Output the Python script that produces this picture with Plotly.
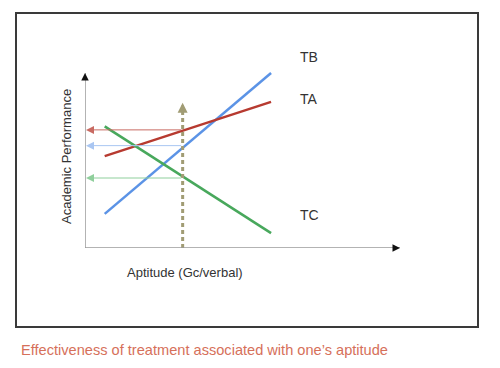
import plotly.graph_objects as go

# ---- data (abstract units: aptitude 0..16, performance 0..10) ----
treatments = ["TB", "TA", "TC"]
x_start = [1.0, 1.0, 1.0]
x_end = [9.45, 9.45, 9.45]
y_start = [1.95, 5.25, 6.95]
y_end = [10.0, 8.35, 0.85]
line_colors = ["#5b93e6", "#b73a30", "#48a85c"]
arrow_colors = ["#a9c6f2", "#c86a62", "#8fcf9c"]

aptitude_point = 4.96
aptitude_top = 8.3
performance_levels = [5.85, 6.75, 4.0]   # TB, TA, TC read at aptitude_point

label_x = [11.4, 11.4, 11.4]
label_y = [10.9, 8.5, 1.9]

x_max = 16
y_max = 10
y_view_max = 11.886

x_title = "Aptitude (Gc/verbal)"
y_title = "Academic Performance"
caption = "Effectiveness of treatment associated with one’s aptitude"

W, H = 500, 368
FONT = "Liberation Sans, Arial, sans-serif"

fig = go.Figure()

for name, xs, xe, ys, ye, c in zip(treatments, x_start, x_end, y_start, y_end, line_colors):
    fig.add_trace(go.Scatter(x=[xs, xe], y=[ys, ye], mode="lines",
                             line=dict(color=c, width=2.5), name=name,
                             showlegend=False, hoverinfo="skip"))

# dashed vertical aptitude marker
fig.add_trace(go.Scatter(x=[aptitude_point, aptitude_point], y=[0, aptitude_top - 0.3],
                         mode="lines", line=dict(color="#a19c74", width=3, dash="4px,3px"),
                         showlegend=False, hoverinfo="skip"))

annotations = []
annotations.append(dict(x=aptitude_point, y=aptitude_top, xref="x", yref="y",
                        ax=aptitude_point, ay=aptitude_top - 0.6, axref="x", ayref="y",
                        showarrow=True, arrowhead=2, arrowsize=0.8, arrowwidth=2.5,
                        arrowcolor="#a19c74", text=""))

for lvl, c in zip(performance_levels, arrow_colors):
    annotations.append(dict(x=0.05, y=lvl, xref="x", yref="y",
                            ax=aptitude_point, ay=lvl, axref="x", ayref="y",
                            showarrow=True, arrowhead=2, arrowsize=1.6, arrowwidth=1,
                            arrowcolor=c, text=""))

shapes = [
    dict(type="line", xref="x", yref="y", x0=0, y0=0, x1=x_max, y1=0,
         line=dict(color="#9a9a9a", width=1.5)),
    dict(type="line", xref="x", yref="y", x0=0, y0=0, x1=0, y1=y_max,
         line=dict(color="#9a9a9a", width=1.5)),
    dict(type="rect", xref="paper", yref="paper",
         x0=16 / W, x1=478 / W, y0=1 - 327 / H, y1=1 - 13 / H,
         line=dict(color="#3a3a3a", width=2), fillcolor="rgba(0,0,0,0)"),
]
annotations.append(dict(x=x_max, y=0, xref="x", yref="y", ax=-5, ay=0,
                        showarrow=True, arrowhead=2, arrowsize=1, arrowwidth=1.5,
                        arrowcolor="#111", text=""))
annotations.append(dict(x=0, y=y_max, xref="x", yref="y", ax=0, ay=5,
                        showarrow=True, arrowhead=2, arrowsize=1, arrowwidth=1.5,
                        arrowcolor="#111", text=""))

for name, lx, ly in zip(treatments, label_x, label_y):
    annotations.append(dict(x=lx, y=ly, xref="x", yref="y", text=name, showarrow=False,
                            font=dict(family=FONT, size=14, color="#333"),
                            xanchor="center", yanchor="middle"))

annotations.append(dict(x=185 / W, y=1 - 272 / H, xref="paper", yref="paper", text=x_title,
                        showarrow=False, xanchor="center", yanchor="middle",
                        font=dict(family=FONT, size=13, color="#333")))
annotations.append(dict(x=67 / W, y=1 - 157 / H, xref="paper", yref="paper", text=y_title,
                        showarrow=False, textangle=-90, xanchor="center", yanchor="middle",
                        font=dict(family=FONT, size=13, color="#333")))
annotations.append(dict(x=19 / W, y=1 - 350 / H, xref="paper", yref="paper", text=caption,
                        showarrow=False, xanchor="left", yanchor="middle",
                        font=dict(family=FONT, size=14.6, color="#d6705a")))

fig.update_layout(
    width=W, height=H, margin=dict(l=0, r=0, t=0, b=0),
    paper_bgcolor="white", plot_bgcolor="white",
    xaxis=dict(domain=[85 / W, 400 / W], range=[0, x_max], visible=False, fixedrange=True),
    yaxis=dict(domain=[1 - 248 / H, 1 - 40 / H], range=[0, y_view_max], visible=False, fixedrange=True),
    shapes=shapes, annotations=annotations, showlegend=False,
)

fig.write_html("out.html", config={"displayModeBar": False, "responsive": False},
               post_script="document.body.style.margin='0';document.body.style.padding='0';document.body.style.overflow='hidden';")
